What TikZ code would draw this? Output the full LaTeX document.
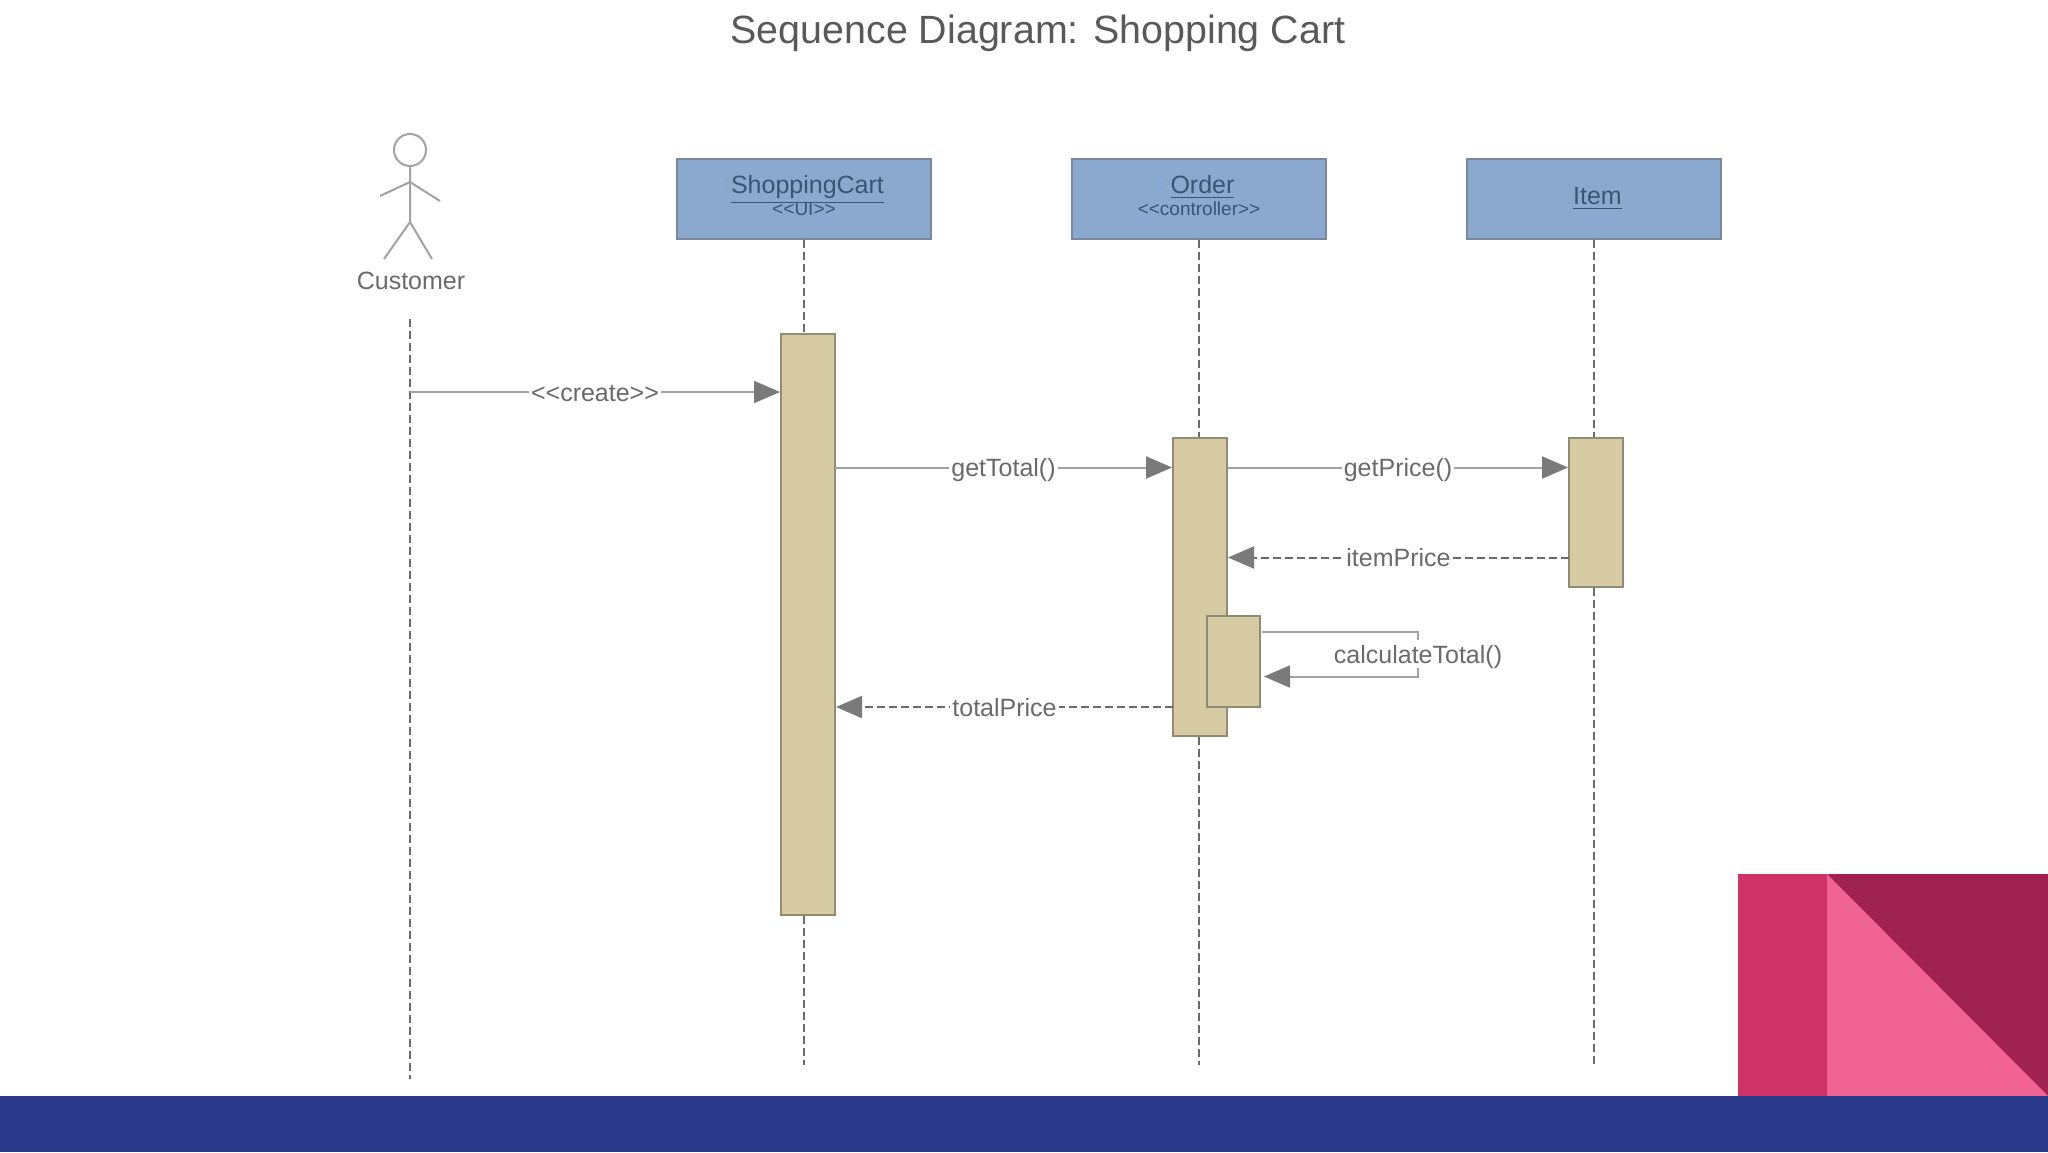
\documentclass[tikz,border=0pt]{standalone}
\usepackage{fontspec}
\setmainfont{Liberation Sans}
\usepackage{xcolor}
\definecolor{Ink}{HTML}{595959}
\definecolor{Soft}{HTML}{6A6A6A}
\definecolor{Wire}{HTML}{A2A2A2}
\definecolor{Tip}{HTML}{7A7A7A}
\definecolor{Steel}{HTML}{8BA9CF}
\definecolor{SteelEdge}{HTML}{77889C}
\definecolor{SteelInk}{HTML}{3A5472}
\definecolor{Sand}{HTML}{D7CBA4}
\definecolor{SandEdge}{HTML}{908C74}
\definecolor{Indigo}{HTML}{2C3A8C}
\definecolor{Rose}{HTML}{CF3267}
\definecolor{Blush}{HTML}{F06292}
\definecolor{Wine}{HTML}{9F234E}
\usepackage{tikz}
\usetikzlibrary{arrows.meta,positioning}
\newcommand{\stereo}[1]{<{}<#1>{}>}
\newcommand{\objname}[1]{{\color{SteelInk!55}:}\underline{#1}}
\tikzset{
  lifebox/.style={draw=SteelEdge,fill=Steel,line width=1pt,minimum width=127pt,minimum height=40pt,inner sep=0pt,align=center,text=SteelInk,font=\fontsize{12.5}{12}\selectfont},
  activebar/.style={draw=SandEdge,fill=Sand,line width=1pt,minimum width=27pt,inner sep=0pt},
  lifeline/.style={draw=Soft,line width=1pt,dash pattern=on 4pt off 2pt},
  msg/.style={draw=Wire,line width=1pt,-{Triangle[length=13pt,width=11pt,color=Tip,fill=Tip]}},
  reply/.style={msg,draw=Soft,dash pattern=on 4pt off 2pt},
  msglabel/.style={fill=white,inner xsep=1pt,inner ysep=0pt,text=Soft,text height=11.6pt,text depth=2.6pt,font=\fontsize{12.5}{14}\selectfont},
  stick/.style={draw=Wire,line width=1pt}
}
\begin{document}
\begin{tikzpicture}[x=0.5pt,y=-0.5pt,node distance=46.5pt and 69.5pt]
\useasboundingbox (0,0) rectangle (2048,1152);
\fill[white] (0,0) rectangle (2048,1152);
\fill[Rose] (1738,874) rectangle (1827,1096);
\fill[Wine] (1827,874) rectangle (2048,1096);
\fill[Blush] (1827,874) -- (2048,1096) -- (1827,1096) -- cycle;
\fill[Indigo] (0,1096) rectangle (2048,1152);
\node[text=Ink,font=\fontsize{19.7}{24}\selectfont] (title) at (1038,33) {Sequence Diagram: Shopping Cart};
\node[lifebox] (cart) at (804,198.5) {\objname{ShoppingCart}\\[-1pt]{\fontsize{9.5}{10}\selectfont\stereo{UI}}\\[-9.4pt]\mbox{}};
\node[lifebox,right=of cart] (order) {\objname{Order}\\[-1pt]{\fontsize{9.5}{10}\selectfont\stereo{controller}}\\[-9.4pt]\mbox{}};
\node[lifebox,right=of order] (item) {\objname{Item}};
\node[activebar,minimum height=290.6pt,below=of cart,xshift=2pt] (cartbar) {};
\node[activebar,minimum height=149pt,below=98.7pt of order,xshift=0.5pt] (orderbar) {};
\node[activebar,minimum height=74.5pt,below=98.7pt of item,xshift=1pt] (itembar) {};
\node[activebar,minimum width=26.5pt,minimum height=45.5pt] (selfbar) at (1233.5,661.5) {};
\node[stick,circle,minimum size=16pt,inner sep=0pt] (head) at (410,150) {};
\coordinate (neck) at (410,182);
\coordinate (hip) at (410,222);
\draw[stick] (head) -- (hip) -- (384,259);
\draw[stick] (hip) -- (432,259);
\draw[stick] (380,196) -- (neck) -- (440,201);
\node[text=Soft,font=\fontsize{12.5}{14}\selectfont] (customer) at (411,281) {Customer};
\coordinate (custtop) at (410,319);
\coordinate (custend) at (410,1079);
\coordinate (lineend) at (804,1065);
\draw[lifeline] (custtop) -- (custend);
\draw[lifeline] (cart.south) -- (cart.south |- cartbar.north);
\draw[lifeline] (cart.south |- cartbar.south) -- (cart.south |- lineend);
\draw[lifeline] (order.south) -- (order.south |- orderbar.north);
\draw[lifeline] (order.south |- orderbar.south) -- (order.south |- lineend);
\draw[lifeline] (item.south) -- (item.south |- itembar.north);
\draw[lifeline] (item.south |- itembar.south) -- (item.south |- lineend);
\coordinate (create) at (410,392);
\coordinate (total) at (835,467.5);
\coordinate (price) at (1228,467.5);
\coordinate (back) at (1569,557.5);
\coordinate (done) at (1173,707);
\coordinate (loopa) at (1262,632);
\coordinate (loopb) at (1418,632);
\coordinate (loopc) at (1418,676.5);
\coordinate (loopd) at (1264,676.5);
\draw[msg] (create) -- node[msglabel] (createlabel) {\stereo{create}} (create -| cartbar.west);
\draw[msg] (total) -- node[msglabel] (totallabel) {getTotal()} (total -| orderbar.west);
\draw[msg] (price) -- node[msglabel] (pricelabel) {getPrice()} (price -| itembar.west);
\draw[reply] (back) -- node[msglabel] (backlabel) {itemPrice} (back -| orderbar.east);
\draw[reply] (done) -- node[msglabel] (donelabel) {totalPrice} (done -| cartbar.east);
\draw[msg] (loopa) -- (loopb) -- node[msglabel] (looplabel) {calculateTotal()} (loopc) -- (loopd);
\end{tikzpicture}
\end{document}
